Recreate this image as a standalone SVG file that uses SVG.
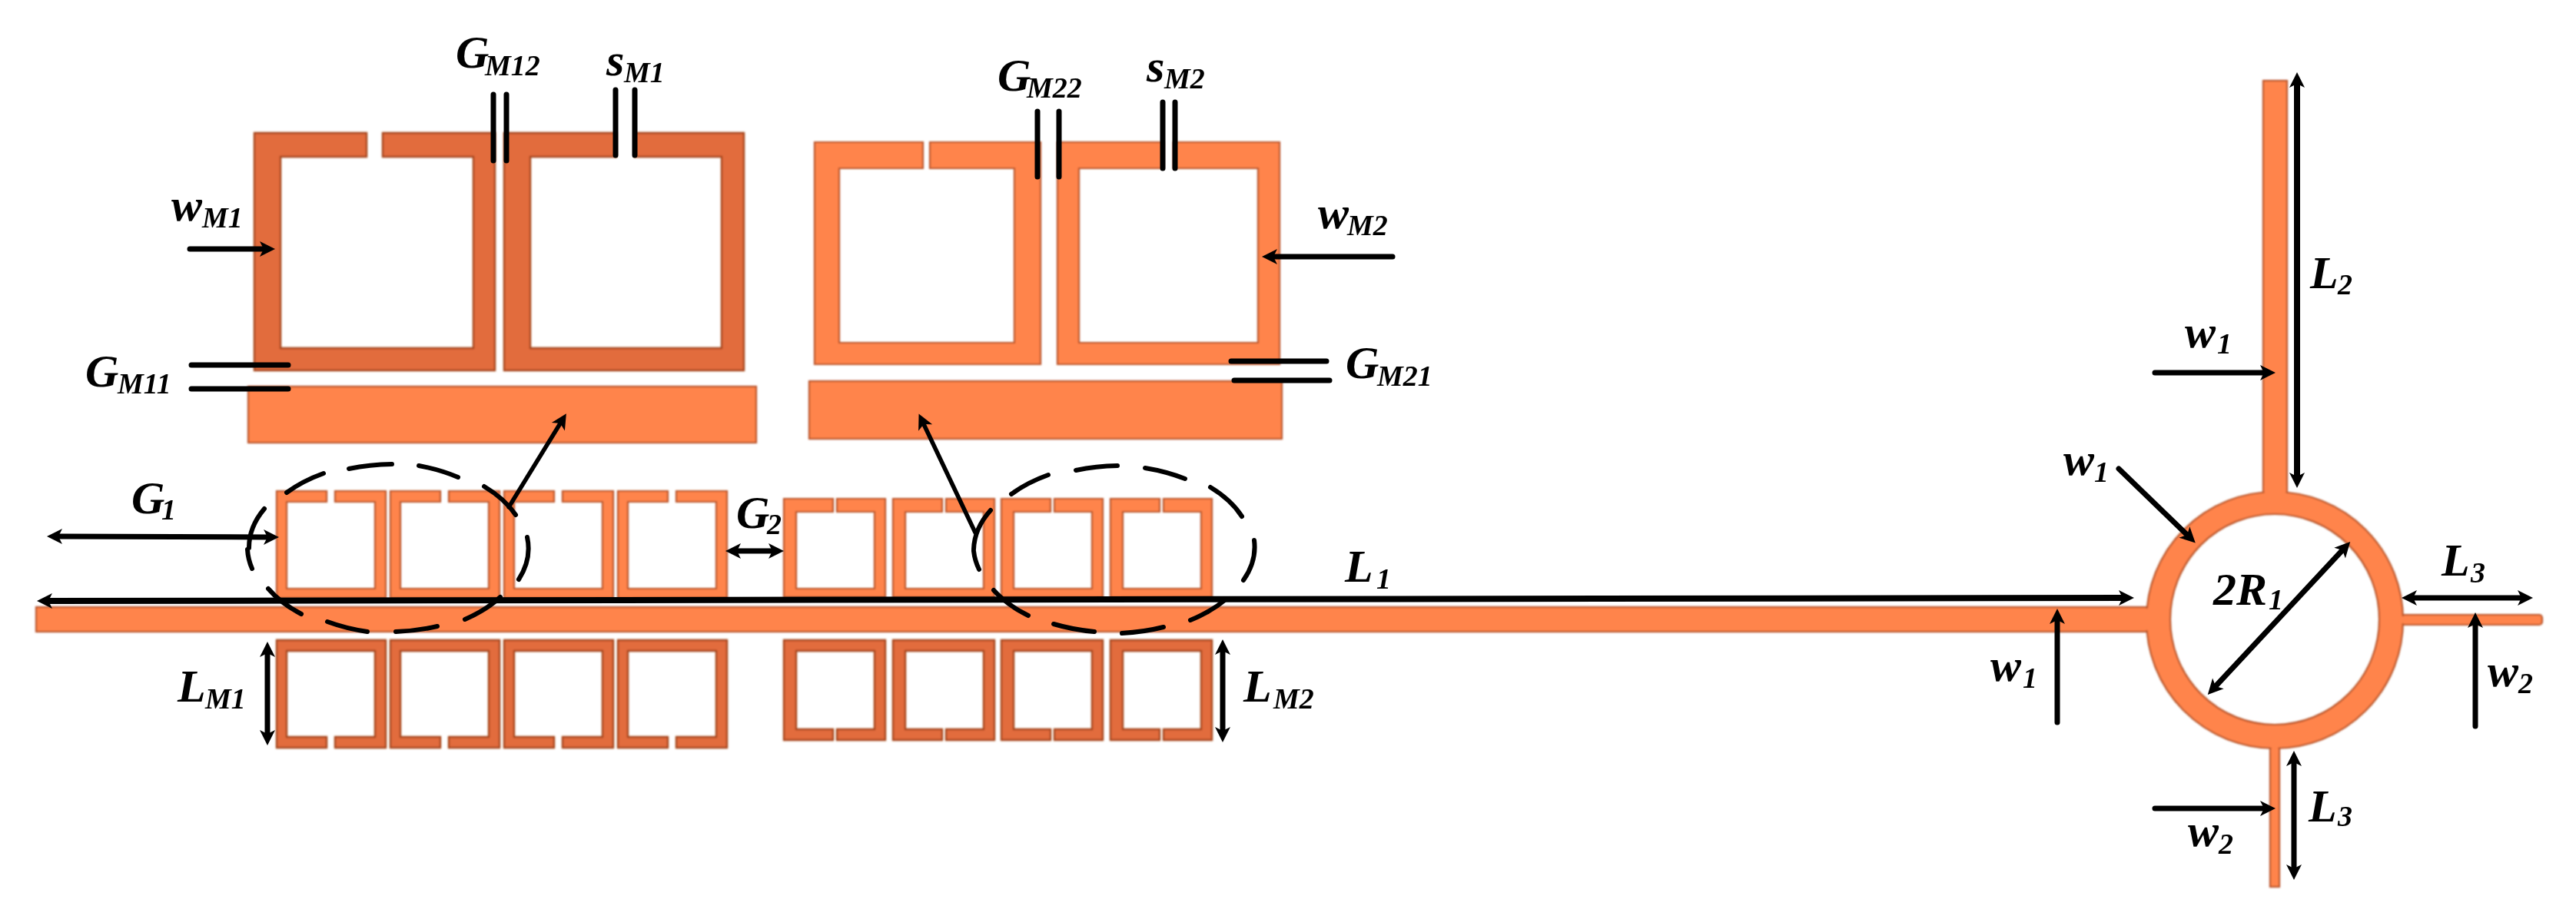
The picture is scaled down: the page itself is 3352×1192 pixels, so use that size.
<svg xmlns="http://www.w3.org/2000/svg" xmlns:xlink="http://www.w3.org/1999/xlink" width="3352" height="1192" viewBox="0 0 3352 1192">
<style>
.lt{fill:#FF844B;stroke:#B9552A;stroke-width:2.2}
.dk{fill:#E26C3C;stroke:#A5451C;stroke-width:2.4}
.pt{fill:#FF844B;stroke:none}
.ln{fill:none;stroke:#000;stroke-width:7;stroke-linecap:round}
.th{stroke-width:5.5}
.hv{stroke-width:8}
.ar{marker-end:url(#h)}
.db{marker-start:url(#h);marker-end:url(#h)}
.el{fill:none;stroke:#000;stroke-width:6;stroke-linecap:round}
text{font-family:"Liberation Serif","Times New Roman",serif;font-style:italic;font-weight:bold;font-size:60px;fill:#000}
.s{font-size:38px}
</style>
<defs>
<filter id="soft" x="-2%" y="-2%" width="104%" height="104%"><feGaussianBlur stdDeviation="0.9"/></filter>
<marker id="h" markerUnits="userSpaceOnUse" markerWidth="24" markerHeight="24" refX="5" refY="12" orient="auto-start-reverse" overflow="visible"><path d="M20 12L0 2L5 12L0 22Z" fill="#000"/></marker>
<path id="t1" d="M65 0H0V139H142V0H76V14H128V127H13V14H65Z"/>
<path id="b1" d="M65 140H0V0H142V140H76V126H128V14H13V126H65Z"/>
<path id="t2" d="M64 0H0V128H132V0H69V17H118V117H16V17H64Z"/>
<path id="b2" d="M64 130H0V0H132V130H69V116H118V14H16V116H64Z"/>
</defs>
<rect width="3352" height="1192" fill="#fff"/>
<g filter="url(#soft)">
<g id="detail-left">
<path class="dk" d="M477 173H331V482H644V173H498V204H616V453H365V204H477Z"/>
<path class="dk" d="M802 173H656V482H968V173H826V204H939V453H690V204H802Z"/>
<rect class="lt" x="323" y="503" width="661" height="73"/>
</g>
<g id="detail-right">
<path class="lt" d="M1201 185H1060V474H1354V185H1210V219H1320V446H1092V219H1201Z"/>
<path class="lt" d="M1514 185H1376V474H1665V185H1527V219H1637V446H1404V219H1514Z"/>
<rect class="lt" x="1053" y="496" width="615" height="75"/>
</g>
<g id="top-row-1">
<use href="#t1" class="lt" x="360" y="639"/><use href="#t1" class="lt" x="508" y="639"/><use href="#t1" class="lt" x="656" y="639"/><use href="#t1" class="lt" x="804" y="639"/>
</g>
<g id="top-row-2">
<use href="#t2" class="lt" x="1020" y="649"/><use href="#t2" class="lt" x="1162" y="649"/><use href="#t2" class="lt" x="1303" y="649"/><use href="#t2" class="lt" x="1445" y="649"/>
</g>
<g id="bottom-row-1">
<use href="#b1" class="dk" x="360" y="833"/><use href="#b1" class="dk" x="508" y="833"/><use href="#b1" class="dk" x="656" y="833"/><use href="#b1" class="dk" x="804" y="833"/>
</g>
<g id="bottom-row-2">
<use href="#b2" class="dk" x="1020" y="833"/><use href="#b2" class="dk" x="1162" y="833"/><use href="#b2" class="dk" x="1303" y="833"/><use href="#b2" class="dk" x="1445" y="833"/>
</g>
<g id="ring-junction">
<rect class="lt" x="47" y="790" width="2750" height="32"/>
<rect class="lt" x="2945" y="105" width="31" height="540"/>
<rect class="lt" x="3120" y="800" width="188" height="13" rx="4"/>
<rect class="lt" x="2954" y="968" width="12" height="186"/>
<path class="lt" fill-rule="evenodd" d="M2793 807a167 167 0 1 0 334 0a167 167 0 1 0-334 0ZM2824 806a136 137 0 1 1 272 0a136 137 0 1 1-272 0Z"/>
<rect class="pt" x="2785" y="792" width="17" height="28"/>
<rect class="pt" x="2946.5" y="632" width="28" height="16"/>
<rect class="pt" x="3118" y="802" width="14" height="9"/>
<rect class="pt" x="2955.5" y="966" width="9" height="14"/>
</g>
</g>
<g id="connectors">
<path class="ln" d="M642 123V209M659 123V209M801 117V202M826 117V202"/>
<path class="ln" d="M249 475H375M249 506H375"/>
<path class="ln" d="M1350 145V230M1378 145V230M1513 133V219M1529 133V219"/>
<path class="ln" d="M1602 470H1726M1606 495H1730"/>
<line class="ln ar" x1="247" y1="324" x2="343" y2="324"/>
<line class="ln ar" x1="1812" y1="334" x2="1657" y2="334"/>
<line class="ln th ar" x1="662" y1="660" x2="729" y2="551"/>
<line class="ln th ar" x1="1269" y1="693" x2="1202" y2="552"/>
<line class="ln db" x1="76" y1="698" x2="348" y2="699"/>
<line class="ln hv db" x1="63" y1="782" x2="2762" y2="778"/>
<line class="ln db" x1="959" y1="717" x2="1005" y2="717"/>
<line class="ln db" x1="348" y1="850" x2="348" y2="955"/>
<line class="ln db" x1="1591" y1="847" x2="1591" y2="951"/>
<line class="ln hv db" x1="2989" y1="109" x2="2989" y2="620"/>
<line class="ln ar" x1="2804" y1="485" x2="2946" y2="485"/>
<line class="ln ar" x1="2757" y1="610" x2="2846" y2="696"/>
<line class="ln db" x1="2883" y1="893" x2="3048" y2="716"/>
<line class="ln db" x1="3140" y1="778" x2="3281" y2="778"/>
<line class="ln ar" x1="3221" y1="945" x2="3221" y2="812"/>
<line class="ln ar" x1="2677" y1="940" x2="2677" y2="807"/>
<line class="ln db" x1="2985" y1="992" x2="2985" y2="1130"/>
<line class="ln ar" x1="2804" y1="1052" x2="2946" y2="1052"/>
<path class="el" d="M373 641A183 111 0 0 1 421 616M454 610A183 111 0 0 1 510 604M545 606A183 111 0 0 1 596 621M630 633A183 111 0 0 1 671 670M686 699A183 111 0 0 1 675 754M651 777A183 111 0 0 1 605 806M569 815A183 111 0 0 1 515 822M478 822A183 111 0 0 1 426 809M392 799A183 111 0 0 1 349 766M328 740A183 111 0 0 1 322 715M324 713A183 111 0 0 1 344 662"/>
<path class="el" d="M1316 643A183 111 0 0 1 1364 618M1400 612A183 111 0 0 1 1454 606M1490 609A183 111 0 0 1 1542 623M1575 634A183 111 0 0 1 1616 672M1632 703A183 111 0 0 1 1618 755M1595 780A183 111 0 0 1 1549 807M1514 816A183 111 0 0 1 1460 824M1424 822A183 111 0 0 1 1371 812M1338 801A183 111 0 0 1 1293 768M1274 741A183 111 0 0 1 1267 717M1267 715A183 111 0 0 1 1289 664"/>
</g>
<g id="labels">
<text><tspan x="593" y="88">G</tspan><tspan class="s" x="631" y="98">M12</tspan></text>
<text><tspan x="789" y="98">s</tspan><tspan class="s" x="812" y="107">M1</tspan></text>
<text><tspan x="223" y="287">w</tspan><tspan class="s" x="263" y="296">M1</tspan></text>
<text><tspan x="111" y="503">G</tspan><tspan class="s" x="153" y="512">M11</tspan></text>
<text><tspan x="1298" y="118">G</tspan><tspan class="s" x="1336" y="127">M22</tspan></text>
<text><tspan x="1492" y="106">s</tspan><tspan class="s" x="1515" y="115">M2</tspan></text>
<text><tspan x="1715" y="297">w</tspan><tspan class="s" x="1753" y="306">M2</tspan></text>
<text><tspan x="1751" y="492">G</tspan><tspan class="s" x="1792" y="502">M21</tspan></text>
<text><tspan x="171" y="668">G</tspan><tspan class="s" x="210" y="676">1</tspan></text>
<text><tspan x="958" y="687">G</tspan><tspan class="s" x="998" y="695">2</tspan></text>
<text><tspan x="231" y="913">L</tspan><tspan class="s" x="267" y="922">M1</tspan></text>
<text><tspan x="1618" y="913">L</tspan><tspan class="s" x="1657" y="922">M2</tspan></text>
<text><tspan x="1750" y="757">L</tspan><tspan class="s" x="1791" y="766">1</tspan></text>
<text><tspan x="3006" y="375">L</tspan><tspan class="s" x="3042" y="383">2</tspan></text>
<text><tspan x="2843" y="452">w</tspan><tspan class="s" x="2885" y="460">1</tspan></text>
<text><tspan x="2685" y="618">w</tspan><tspan class="s" x="2725" y="627">1</tspan></text>
<text><tspan x="2590" y="886">w</tspan><tspan class="s" x="2632" y="895">1</tspan></text>
<text><tspan x="2880" y="787">2R</tspan><tspan class="s" x="2952" y="793">1</tspan></text>
<text><tspan x="3177" y="749">L</tspan><tspan class="s" x="3215" y="758">3</tspan></text>
<text><tspan x="3237" y="893">w</tspan><tspan class="s" x="3277" y="902">2</tspan></text>
<text><tspan x="3004" y="1069">L</tspan><tspan class="s" x="3042" y="1075">3</tspan></text>
<text><tspan x="2847" y="1101">w</tspan><tspan class="s" x="2887" y="1111">2</tspan></text>
</g>
</svg>
